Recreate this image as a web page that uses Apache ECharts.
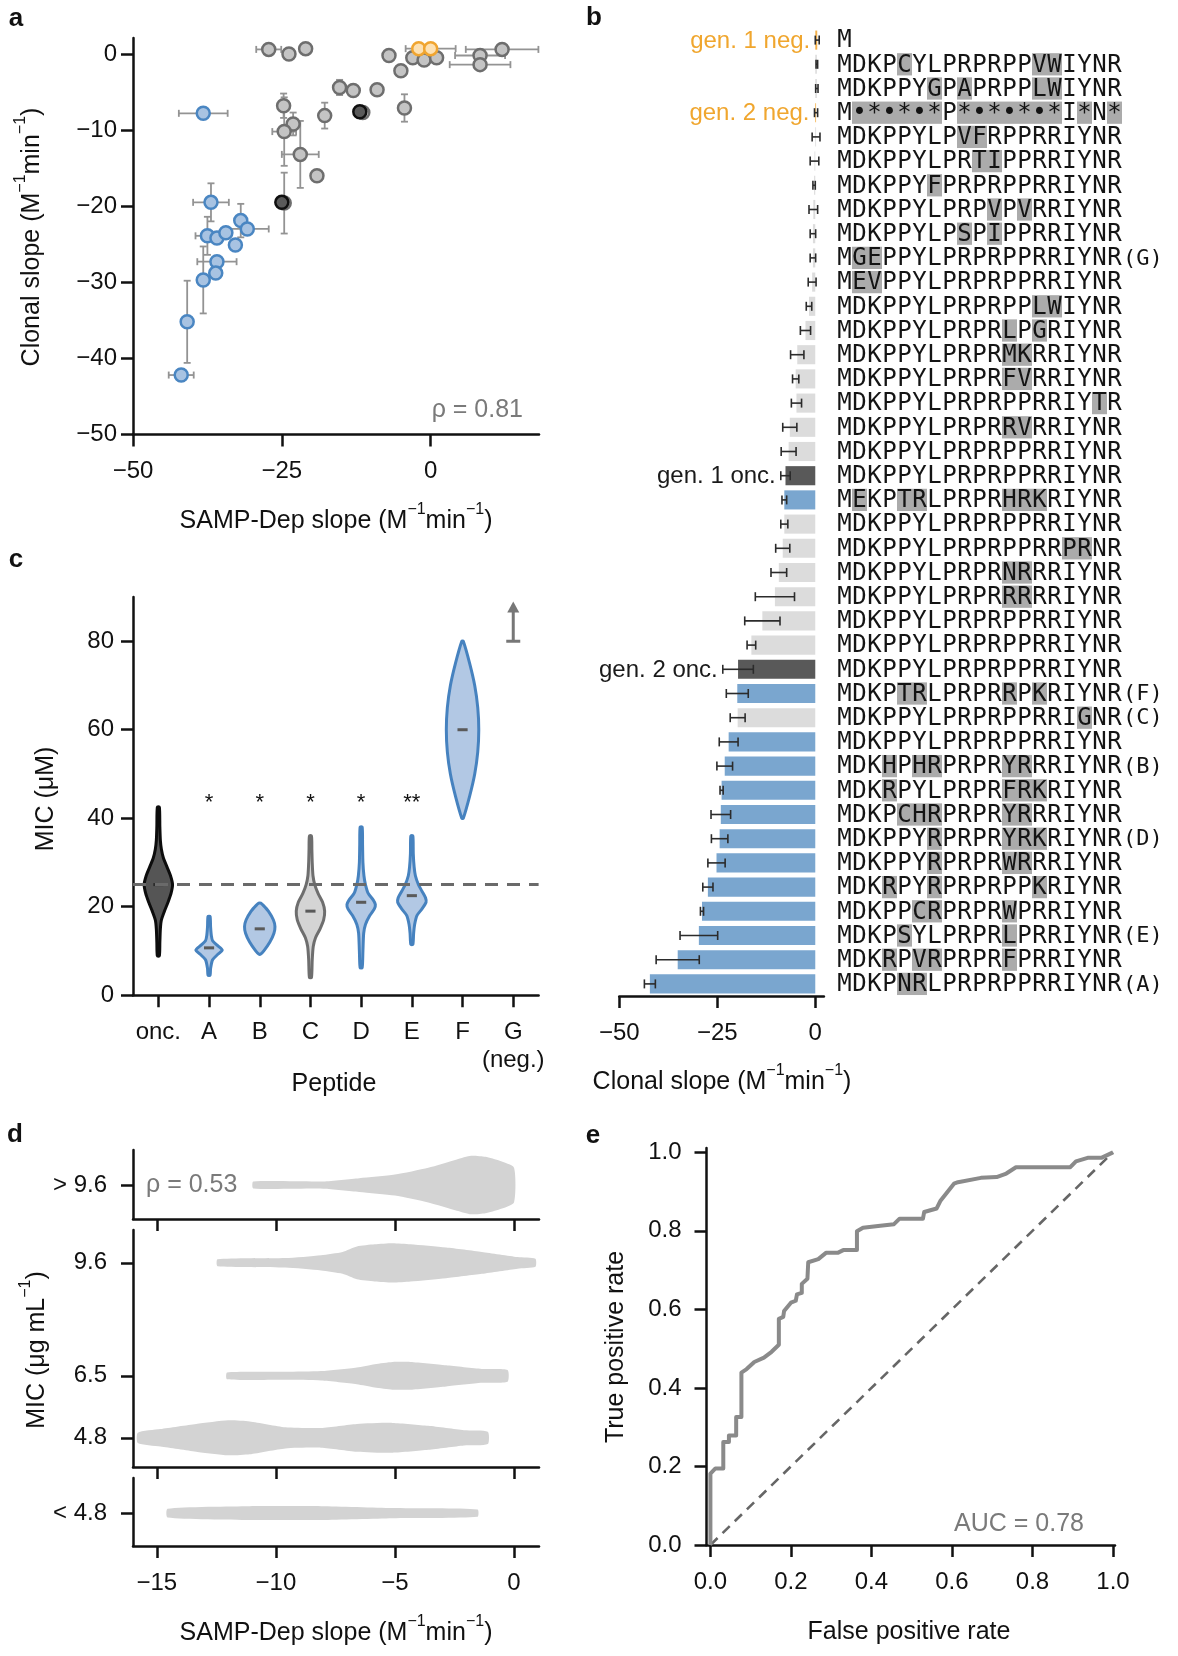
<!DOCTYPE html>
<html>
<head>
<meta charset="utf-8">
<script src="https://cdn.jsdelivr.net/npm/echarts@6/dist/echarts.min.js"></script>
<style>
html,body{margin:0;padding:0;background:#fff;}
#chart{width:1178px;height:1656px;}
</style>
</head>
<body>
<div id="chart"></div>
<script>
// ---------------- Panel a: SAMP-Dep slope vs clonal slope ----------------
const aGrayX    = [-27.2,-23.8,-21.0,-7.0,-3.0,-1.1,1.0,12.0,8.3,8.3,-5.0,-15.3,-13.0,-9.0,-4.4,-24.7,-17.8,-23.1,-24.6,-21.9,-19.1,-11.4,-24.6];
const aGrayY    = [0.6,0.0,0.7,-0.2,-0.5,-0.8,-0.5,0.6,-0.2,-1.4,-2.2,-4.4,-4.8,-4.7,-7.1,-6.8,-8.1,-9.2,-10.2,-13.2,-16.0,-7.7,-19.6];
const aGrayXErr = [2.1,0,0,0,0,0,0,6.1,4.2,5.1,0,0,0,0,0,0,0,0,2.0,3.1,0,0,0];
const aGrayYErr = [0,0,0,0,0,0,0,0,0,0,0,1.0,0,0,1.8,1.6,1.7,1.5,4.5,4.4,0,0,4.0];
const aNegX = [-2.0, 0.0];
const aNegY = [0.7, 0.7];
const aNegXErr = [0, 4.2];
const aNegYErr = [0, 0];
const aOncX = [-11.9, -25.0];
const aOncY = [-7.6, -19.5];
const aBlueX    = [-38.2,-36.9,-37.5,-35.9,-34.4,-31.9,-30.8,-32.8,-35.9,-36.1,-38.2,-40.9,-41.9];
const aBlueY    = [-7.8,-19.5,-23.9,-24.2,-23.5,-21.9,-23.0,-25.1,-27.3,-28.8,-29.7,-35.2,-42.2];
const aBlueXErr = [4.1,3.0,2.0,0,0,0,3.6,0,3.3,0,0,0,2.1];
const aBlueYErr = [0,2.5,2.5,0,0,2.2,0,0,0,0,4.4,5.4,0.8];
const aTicksX = [-50,-25,0];
const aTicksY = [-50,-40,-30,-20,-10,0];

// ---------------- Panel b: clonal slope per sequence ----------------
const REF = 'MDKPPYLPRPRPPRRIYNR';
const bSeq = [
 'M',
 'MDKPCYLPRPRPPVWIYNR',
 'MDKPPYGPAPRPPLWIYNR',
 'M\u2022*\u2022*\u2022*P*\u2022*\u2022*\u2022*I*N*',
 'MDKPPYLPVFRPPRRIYNR',
 'MDKPPYLPRTIPPRRIYNR',
 'MDKPPYFPRPRPPRRIYNR',
 'MDKPPYLPRPVPVRRIYNR',
 'MDKPPYLPSPIPPRRIYNR',
 'MGEPPYLPRPRPPRRIYNR',
 'MEVPPYLPRPRPPRRIYNR',
 'MDKPPYLPRPRPPLWIYNR',
 'MDKPPYLPRPRLPGRIYNR',
 'MDKPPYLPRPRMKRRIYNR',
 'MDKPPYLPRPRFVRRIYNR',
 'MDKPPYLPRPRPPRRIYTR',
 'MDKPPYLPRPRRVRRIYNR',
 'MDKPPYLPRPRPPRRIYNR',
 'MDKPPYLPRPRPPRRIYNR',
 'MEKPTRLPRPRHRKRIYNR',
 'MDKPPYLPRPRPPRRIYNR',
 'MDKPPYLPRPRPPRRPRNR',
 'MDKPPYLPRPRNRRRIYNR',
 'MDKPPYLPRPRRRRRIYNR',
 'MDKPPYLPRPRPPRRIYNR',
 'MDKPPYLPRPRPPRRIYNR',
 'MDKPPYLPRPRPPRRIYNR',
 'MDKPTRLPRPRRPKRIYNR',
 'MDKPPYLPRPRPPRRIGNR',
 'MDKPPYLPRPRPPRRIYNR',
 'MDKHPHRPRPRYRRRIYNR',
 'MDKRPYLPRPRFRKRIYNR',
 'MDKPCHRPRPRYRRRIYNR',
 'MDKPPYRPRPRYRKRIYNR',
 'MDKPPYRPRPRWRRRIYNR',
 'MDKRPYRPRPRPPKRIYNR',
 'MDKPPCRPRPRWPRRIYNR',
 'MDKPSYLPRPRLPRRIYNR',
 'MDKRPVRPRPRFPRRIYNR',
 'MDKPNRLPRPRPPRRIYNR'
];
const bSuffix = ['','','','','','','','','','(G)','','','','','','','','','','','','','','','','','','(F)','(C)','','(B)','','','(D)','','','','(E)','','(A)'];
const bSlope = [0.5,0.4,0.4,0.2,0.2,-0.2,-0.3,-0.5,-0.6,-0.6,-0.8,-1.6,-2.5,-4.6,-5.0,-4.8,-6.5,-6.8,-7.6,-7.9,-7.9,-8.3,-9.3,-10.3,-13.5,-16.3,-19.7,-19.9,-19.8,-22.1,-23.1,-23.9,-24.1,-24.4,-25.2,-27.4,-28.9,-29.7,-35.1,-42.2];
const bErr   = [0.5,0.2,0.3,0.4,1.0,1.1,0.3,1.1,0.7,0.7,1.0,0.7,1.3,1.7,0.8,1.3,1.8,1.9,1.2,0.6,0.9,1.8,2.0,5.0,4.5,1.1,3.9,2.8,1.9,2.4,2.0,0.4,2.5,2.1,2.2,1.3,0.4,4.8,5.5,1.4];
const bGroup = ['neg','other','other','neg','other','other','other','other','other','other','other','other','other','other','other','other','other','other','onc','blue','other','other','other','other','other','other','onc','blue','other','blue','blue','blue','blue','blue','blue','blue','blue','blue','blue','blue'];
const bTag = {0:'gen. 1 neg.', 3:'gen. 2 neg.', 18:'gen. 1 onc.', 26:'gen. 2 onc.'};
const bTicks = [-50,-25,0];

// ---------------- Panel c: MIC violins ----------------
const cCats   = ['onc.','A','B','C','D','E','F','G\n(neg.)'];
const cMedian = [25, 10.7, 15, 19, 21, 22.5, 60, null];
const cStars  = ['', '*', '*', '*', '*', '**', '', ''];
const cAbove  = [null, null, null, null, null, null, null, 80];
const cOncY = [8.9,12,15,17,19,21,23,25,27,29,31,33,35,38,42.5];
const cOncW = [0.02,0.03,0.04,0.06,0.12,0.19,0.25,0.28,0.24,0.17,0.10,0.06,0.04,0.03,0.02];
const cAY = [4.5,6,8,9.3,10.2,11.2,12.3,13.5,15.5,17.8];
const cAW = [0.02,0.03,0.07,0.18,0.26,0.17,0.07,0.045,0.03,0.02];
const cBY = [9.3,10,12,14,15.5,17,19,20.3,20.8];
const cBW = [0.02,0.08,0.2,0.28,0.3,0.27,0.17,0.07,0.02];
const cCY = [4,8,11,13,15,17,19,21,23,25,27,30,33,36];
const cCW = [0.02,0.035,0.055,0.1,0.19,0.26,0.28,0.24,0.15,0.085,0.05,0.035,0.028,0.02];
const cDY = [6.2,10,14,16,18,19.5,20.5,21.5,23,25,27,30,34,38];
const cDW = [0.02,0.035,0.05,0.085,0.17,0.26,0.28,0.24,0.14,0.085,0.055,0.035,0.028,0.02];
const cEY = [11.5,14,16,18,19.5,21,22,23.5,25,27,29,32,36];
const cEW = [0.02,0.035,0.055,0.1,0.2,0.28,0.27,0.2,0.13,0.07,0.045,0.028,0.02];
const cFY = [40,45,50,55,60,65,70,75,80];
const cFW = [0.015,0.14,0.24,0.3,0.32,0.3,0.24,0.14,0.015];
const cRefMIC = 25;
const cTicks = [0,20,40,60,80];

// ---------------- Panel d: SAMP-Dep slope by MIC ----------------
const dHighX = [-10.95,-8,-6.5,-5,-3.6,-2.4,-1.8,-1.2,-0.6,0];
const dHighW = [0.095,0.1,0.19,0.29,0.48,0.71,0.81,0.78,0.67,0.48];
const dMidCenters = [9.6, 6.5, 4.8];
const d96X = [-12.45,-9.6,-8.1,-7.2,-6.6,-5.85,-5.1,-4.35,-2.85,-1.35,0.15,0.9];
const d96W = [0.095,0.13,0.21,0.3,0.45,0.51,0.54,0.51,0.42,0.3,0.16,0.11];
const d65X = [-12.05,-9.6,-8.1,-6.6,-5.85,-5.1,-4.35,-2.85,-1.35,-0.27];
const d65W = [0.095,0.11,0.13,0.23,0.32,0.38,0.38,0.29,0.19,0.16];
const d48X = [-15.8,-14.85,-13.35,-12,-11.1,-9.6,-8.1,-6.6,-5.1,-3.6,-2.1,-1.1];
const d48W = [0.14,0.24,0.38,0.48,0.45,0.29,0.27,0.38,0.41,0.33,0.21,0.17];
const dLowX = [-14.55,-11.1,-8.1,-5.1,-1.53];
const dLowW = [0.12,0.19,0.19,0.14,0.1];
const dTicksX = [-15,-10,-5,0];

// ---------------- Panel e: ROC ----------------
const rocFpr = [0,0,0.0125,0.032,0.032,0.046,0.046,0.064,0.064,0.077,0.077,0.090,0.109,0.133,0.152,0.170,0.170,0.181,0.183,0.200,0.212,0.215,0.227,0.227,0.241,0.243,0.268,0.287,0.316,0.330,0.364,0.364,0.379,0.422,0.456,0.470,0.528,0.531,0.562,0.571,0.605,0.615,0.672,0.711,0.735,0.759,0.894,0.908,0.937,0.971,1.0];
const rocTpr = [0,0.182,0.195,0.195,0.262,0.262,0.279,0.279,0.326,0.326,0.439,0.448,0.466,0.477,0.492,0.510,0.576,0.581,0.596,0.617,0.622,0.638,0.642,0.665,0.678,0.720,0.728,0.744,0.744,0.751,0.751,0.799,0.808,0.813,0.817,0.831,0.831,0.848,0.857,0.876,0.920,0.924,0.935,0.937,0.946,0.962,0.962,0.977,0.986,0.986,1.0];
const eTicks = [0,0.2,0.4,0.6,0.8,1.0];

// ================= styling / building =================
const FONT = '"Liberation Sans", Arial, Helvetica, sans-serif';
const MONO = '"DejaVu Sans Mono", monospace';
const INK = '#111111';
const GRAYTXT = '#7a7a7a';
const minus = v => String(v).replace('-', '\u2212');

function valAxis(gi, min, max, ticks, o) {
  o = o || {};
  return {
    type: 'value', gridIndex: gi, min: min, max: max,
    axisLine: {show: true, onZero: false, lineStyle: {color: INK, width: 2.5}},
    axisTick: {show: true, length: 12, customValues: ticks, lineStyle: {color: INK, width: 2.5}},
    axisLabel: {show: o.label !== false, customValues: ticks, margin: o.margin || 16,
      color: INK, fontSize: 24, fontFamily: FONT, formatter: o.fmt || minus},
    splitLine: {show: false}
  };
}
function hidAxis(gi, type, extra) {
  return Object.assign({type: type, gridIndex: gi, show: false, splitLine: {show: false}}, extra);
}
function grid(l, t, w, h) {
  return {left: l, top: t, width: w, height: h, containLabel: false, outerBoundsMode: 'none'};
}

const rowIds = bSeq.map((s, i) => String(i));
const bColors = {neg: '#f3b04a', other: '#dcdcdc', onc: '#595959', blue: '#7aa6cf'};

const cProfiles = [
  {y: cOncY, w: cOncW, fill: '#555555', stroke: '#0d0d0d', med: '#2a2a2a'},
  {y: cAY, w: cAW, fill: '#b2c8e4', stroke: '#4682bf', med: '#5a5a5a'},
  {y: cBY, w: cBW, fill: '#b2c8e4', stroke: '#4682bf', med: '#5a5a5a'},
  {y: cCY, w: cCW, fill: '#d4d4d4', stroke: '#6e6e6e', med: '#5a5a5a'},
  {y: cDY, w: cDW, fill: '#b2c8e4', stroke: '#4682bf', med: '#5a5a5a'},
  {y: cEY, w: cEW, fill: '#b2c8e4', stroke: '#4682bf', med: '#5a5a5a'},
  {y: cFY, w: cFW, fill: '#b2c8e4', stroke: '#4682bf', med: '#5a5a5a'},
  null
];

function errData(xs, ys, xe, ye) { return xs.map((x, i) => [x, ys[i], xe[i], ye[i]]); }
const aErr = [].concat(errData(aGrayX, aGrayY, aGrayXErr, aGrayYErr),
                       errData(aNegX, aNegY, aNegXErr, aNegYErr),
                       errData(aBlueX, aBlueY, aBlueXErr, aBlueYErr));

function renderErrA(params, api) {
  const x = api.value(0), y = api.value(1), xe = api.value(2), ye = api.value(3);
  const st = {stroke: '#939393', lineWidth: 1.8};
  const cap = 3.5, kids = [];
  if (xe > 0) {
    const a = api.coord([x - xe, y]), b = api.coord([x + xe, y]);
    kids.push({type: 'line', shape: {x1: a[0], y1: a[1], x2: b[0], y2: b[1]}, style: st});
    kids.push({type: 'line', shape: {x1: a[0], y1: a[1] - cap, x2: a[0], y2: a[1] + cap}, style: st});
    kids.push({type: 'line', shape: {x1: b[0], y1: b[1] - cap, x2: b[0], y2: b[1] + cap}, style: st});
  }
  if (ye > 0) {
    const a = api.coord([x, y - ye]), b = api.coord([x, y + ye]);
    kids.push({type: 'line', shape: {x1: a[0], y1: a[1], x2: b[0], y2: b[1]}, style: st});
    kids.push({type: 'line', shape: {x1: a[0] - cap, y1: a[1], x2: a[0] + cap, y2: a[1]}, style: st});
    kids.push({type: 'line', shape: {x1: b[0] - cap, y1: b[1], x2: b[0] + cap, y2: b[1]}, style: st});
  }
  return {type: 'group', children: kids};
}

function renderErrB(params, api) {
  const v = api.value(0), r = api.value(1), e = api.value(2);
  const a = api.coord([v - e, r]), b = api.coord([v + e, r]);
  const st = {stroke: '#2b2b2b', lineWidth: 1.6};
  const cap = 4.5;
  return {type: 'group', children: [
    {type: 'line', shape: {x1: a[0], y1: a[1], x2: b[0], y2: b[1]}, style: st},
    {type: 'line', shape: {x1: a[0], y1: a[1] - cap, x2: a[0], y2: a[1] + cap}, style: st},
    {type: 'line', shape: {x1: b[0], y1: b[1] - cap, x2: b[0], y2: b[1] + cap}, style: st}
  ]};
}

function renderTagB(params, api) {
  const lo = api.value(0), r = api.value(1);
  const p = api.coord([lo, r]);
  const col = bGroup[r] === 'neg' ? '#f0a62e' : '#1a1a1a';
  return {type: 'text', x: p[0] - 5, y: p[1] + 1,
    style: {text: bTag[r], fill: col, font: '24px ' + FONT, align: 'right', verticalAlign: 'middle'}};
}

function renderSeq(params, api) {
  const c = api.value(0), r = api.value(1);
  const ch = bSeq[r][c];
  const p0 = api.coord([c, r]), p1 = api.coord([c + 1, r]);
  const band = api.size([0, 1])[1];
  const kids = [];
  if (ch !== REF[c]) {
    kids.push({type: 'rect', shape: {x: p0[0], y: p0[1] - band * 0.46, width: p1[0] - p0[0], height: band * 0.92},
      style: {fill: '#ababab'}});
  }
  kids.push({type: 'text', x: (p0[0] + p1[0]) / 2, y: p0[1] + 1,
    style: {text: ch, fill: '#141414', font: '24px ' + MONO, align: 'center', verticalAlign: 'middle'}});
  return {type: 'group', children: kids};
}
function renderSuffix(params, api) {
  const c = api.value(0), r = api.value(1);
  const p = api.coord([c, r]);
  return {type: 'text', x: p[0] + 1, y: p[1] + 1,
    style: {text: bSuffix[r], fill: '#141414', font: '22px ' + MONO, align: 'left', verticalAlign: 'middle'}};
}

function renderViolinC(params, api) {
  const i = params.dataIndex;
  const prof = cProfiles[i];
  if (!prof) return null;
  const band = api.size([1, 0])[0];
  const left = [], right = [];
  prof.y.forEach((y, k) => {
    const p = api.coord([i, y]);
    left.push([p[0] - prof.w[k] * band, p[1]]);
    right.push([p[0] + prof.w[k] * band, p[1]]);
  });
  const pts = left.concat(right.reverse());
  const m = api.coord([i, cMedian[i]]);
  return {type: 'group', children: [
    {type: 'polygon', shape: {points: pts, smooth: 0.25}, style: {fill: prof.fill, stroke: prof.stroke, lineWidth: 3, lineJoin: 'round'}},
    {type: 'line', shape: {x1: m[0] - 0.1 * band, y1: m[1], x2: m[0] + 0.1 * band, y2: m[1]}, style: {stroke: prof.med, lineWidth: 3}}
  ]};
}
function renderStar(params, api) {
  const i = params.dataIndex;
  if (!cStars[i]) return null;
  const p = api.coord([i, 43.5]);
  return {type: 'text', x: p[0], y: p[1],
    style: {text: cStars[i], fill: INK, font: '22px ' + FONT, align: 'center', verticalAlign: 'middle'}};
}
function renderArrow(params, api) {
  const i = params.dataIndex;
  if (cAbove[i] == null) return null;
  const b = api.coord([i, cAbove[i]]);
  const t = api.coord([i, cAbove[i] + 9]);
  const st = {stroke: '#777777', lineWidth: 3};
  return {type: 'group', children: [
    {type: 'line', shape: {x1: b[0] - 7, y1: b[1], x2: b[0] + 7, y2: b[1]}, style: st},
    {type: 'line', shape: {x1: b[0], y1: b[1], x2: b[0], y2: t[1] + 9}, style: st},
    {type: 'polygon', shape: {points: [[t[0], t[1]], [t[0] - 6, t[1] + 11], [t[0] + 6, t[1] + 11]]}, style: {fill: '#777777'}}
  ]};
}

function makeViolinH(profiles) {
  return function (params, api) {
    const prof = profiles[params.dataIndex];
    const c = api.value(1);
    const top = [], bot = [];
    prof.x.forEach((x, k) => {
      top.push(api.coord([x, c + prof.w[k]]));
      bot.push(api.coord([x, c - prof.w[k]]));
    });
    return {type: 'polygon', shape: {points: top.concat(bot.reverse()), smooth: 0.2}, style: {fill: '#d3d3d3'}};
  };
}

function supText(x, y, parts, rot) {
  const text = parts.map(p => (p[1] ? '{s|' : '{a|') + p[0] + '}').join('');
  return {type: 'text', x: x, y: y, rotation: rot || 0,
    style: {text: text, align: 'center', verticalAlign: 'middle', fill: INK,
      rich: {a: {fontSize: 25, fontFamily: FONT, lineHeight: 38}, s: {fontSize: 16, fontFamily: FONT, verticalAlign: 'top'}}}};
}
function txt(x, y, s, opt, rot) {
  return {type: 'text', x: x, y: y, rotation: rot || 0,
    style: Object.assign({text: s, font: '25px ' + FONT, fill: INK, align: 'center', verticalAlign: 'middle'}, opt || {})};
}
const slopeUnits = [['(M', 0], ['\u22121', 1], ['min', 0], ['\u22121', 1], [')', 0]];

const option = {
  animation: false,
  backgroundColor: '#ffffff',
  grid: [
    grid(133, 38, 406, 396.4),
    grid(619.3, 28, 204.6, 968),
    grid(837, 28, 330, 968),
    grid(133, 597, 405.6, 398.2),
    grid(133, 1150, 406, 69),
    grid(133, 1230, 406, 237),
    grid(133, 1478, 406, 68),
    grid(706.5, 1148, 408.5, 397)
  ],
  xAxis: [
    valAxis(0, -50, 18.2, aTicksX, {margin: 25}),
    valAxis(1, -50, 2.2, bTicks, {margin: 25}),
    hidAxis(2, 'value', {min: 0, max: 22}),
    {type: 'category', gridIndex: 3, data: cCats,
      axisLine: {show: true, lineStyle: {color: INK, width: 2.5}},
      axisTick: {show: true, alignWithLabel: true, length: 12, lineStyle: {color: INK, width: 2.5}},
      axisLabel: {interval: 0, margin: 23, color: INK, fontSize: 24, fontFamily: FONT, lineHeight: 28},
      splitLine: {show: false}},
    valAxis(4, -16, 1.05, dTicksX, {label: false}),
    valAxis(5, -16, 1.05, dTicksX, {label: false}),
    valAxis(6, -16, 1.05, dTicksX, {margin: 25}),
    valAxis(7, -0.0097, 1.005, eTicks, {margin: 25, fmt: v => v.toFixed(1)})
  ],
  yAxis: [
    valAxis(0, -50, 2.1, aTicksY, {margin: 16}),
    hidAxis(1, 'category', {data: rowIds, inverse: true}),
    hidAxis(2, 'category', {data: rowIds, inverse: true}),
    valAxis(3, 0, 90, cTicks, {margin: 19}),
    valAxis(4, -0.94, 0.97, [0], {margin: 26, fmt: () => '> 9.6'}),
    valAxis(5, 4.0, 10.5, dMidCenters, {margin: 26, fmt: v => v.toFixed(1)}),
    valAxis(6, -0.91, 0.97, [0], {margin: 26, fmt: () => '< 4.8'}),
    valAxis(7, 0, 1.011, eTicks, {margin: 25, fmt: v => v.toFixed(1)})
  ],
  series: [
    {type: 'custom', xAxisIndex: 0, yAxisIndex: 0, renderItem: renderErrA, data: aErr, z: 1, silent: true},
    {type: 'scatter', xAxisIndex: 0, yAxisIndex: 0, z: 2, symbolSize: 13,
      data: aGrayX.map((x, i) => [x, aGrayY[i]]),
      itemStyle: {color: '#c4c4c4', borderColor: '#6e6e6e', borderWidth: 2.5, opacity: 1}},
    {type: 'scatter', xAxisIndex: 0, yAxisIndex: 0, z: 3, symbolSize: 13,
      data: aBlueX.map((x, i) => [x, aBlueY[i]]),
      itemStyle: {color: '#a8c3e2', borderColor: '#4a86c2', borderWidth: 2.5, opacity: 1}},
    {type: 'scatter', xAxisIndex: 0, yAxisIndex: 0, z: 4, symbolSize: 13,
      data: aNegX.map((x, i) => [x, aNegY[i]]),
      itemStyle: {color: '#fde1b3', borderColor: '#f0a530', borderWidth: 2.5, opacity: 1}},
    {type: 'scatter', xAxisIndex: 0, yAxisIndex: 0, z: 5, symbolSize: 13,
      data: aOncX.map((x, i) => [x, aOncY[i]]),
      itemStyle: {color: '#5a5a5a', borderColor: '#0f0f0f', borderWidth: 2.5, opacity: 1}},
    {type: 'bar', xAxisIndex: 1, yAxisIndex: 1, barWidth: '79%', z: 2, silent: true,
      data: bSlope.map((v, i) => ({value: v, itemStyle: {color: bColors[bGroup[i]]}}))},
    {type: 'custom', xAxisIndex: 1, yAxisIndex: 1, z: 3, silent: true, renderItem: renderErrB,
      data: bSlope.map((v, i) => [v, i, bErr[i]])},
    {type: 'custom', xAxisIndex: 1, yAxisIndex: 1, z: 4, silent: true, renderItem: renderTagB,
      data: Object.keys(bTag).map(k => [bSlope[+k] - bErr[+k], +k])},
    {type: 'custom', xAxisIndex: 2, yAxisIndex: 2, z: 3, silent: true, renderItem: renderSeq,
      data: [].concat.apply([], bSeq.map((s, r) => s.split('').map((ch, c) => [c, r])))},
    {type: 'custom', xAxisIndex: 2, yAxisIndex: 2, z: 3, silent: true, renderItem: renderSuffix,
      data: bSuffix.map((s, r) => s ? [bSeq[r].length, r] : null).filter(d => d)},
    {type: 'line', xAxisIndex: 3, yAxisIndex: 3, z: 1, silent: true, data: [], showSymbol: false,
      markLine: {silent: true, symbol: ['none', 'none'], label: {show: false},
        lineStyle: {color: '#6a6a6a', width: 3, type: [13, 9]}, data: [{yAxis: cRefMIC}]}},
    {type: 'custom', xAxisIndex: 3, yAxisIndex: 3, z: 3, silent: true, renderItem: renderViolinC,
      data: cCats.map((c, i) => [i, cMedian[i] == null ? 0 : cMedian[i]])},
    {type: 'custom', xAxisIndex: 3, yAxisIndex: 3, z: 3, silent: true, renderItem: renderStar,
      data: cCats.map((c, i) => [i, 0])},
    {type: 'custom', xAxisIndex: 3, yAxisIndex: 3, z: 3, silent: true, renderItem: renderArrow,
      data: cCats.map((c, i) => [i, 0])},
    {type: 'custom', xAxisIndex: 4, yAxisIndex: 4, z: 2, silent: true,
      renderItem: makeViolinH([{x: dHighX, w: dHighW}]), data: [[0, 0]]},
    {type: 'custom', xAxisIndex: 5, yAxisIndex: 5, z: 2, silent: true,
      renderItem: makeViolinH([{x: d96X, w: d96W}, {x: d65X, w: d65W}, {x: d48X, w: d48W}]),
      data: dMidCenters.map(c => [0, c])},
    {type: 'custom', xAxisIndex: 6, yAxisIndex: 6, z: 2, silent: true,
      renderItem: makeViolinH([{x: dLowX, w: dLowW}]), data: [[0, 0]]},
    {type: 'line', xAxisIndex: 7, yAxisIndex: 7, z: 2, silent: true, showSymbol: false,
      data: [[0, 0], [1, 1]], lineStyle: {color: '#666666', width: 2.6, type: [10, 7]}},
    {type: 'line', xAxisIndex: 7, yAxisIndex: 7, z: 3, silent: true, showSymbol: false,
      data: rocFpr.map((x, i) => [x, rocTpr[i]]), lineStyle: {color: '#8a8a8a', width: 4, join: 'round'}}
  ],
  graphic: [
    txt(16, 19, 'a', {font: 'bold 26px ' + FONT}),
    txt(594, 18, 'b', {font: 'bold 26px ' + FONT}),
    txt(16, 560, 'c', {font: 'bold 26px ' + FONT}),
    txt(15, 1135, 'd', {font: 'bold 26px ' + FONT}),
    txt(593, 1136, 'e', {font: 'bold 26px ' + FONT}),
    supText(32, 237, [['Clonal slope ', 0]].concat(slopeUnits), Math.PI / 2),
    supText(336, 521, [['SAMP-Dep slope ', 0]].concat(slopeUnits)),
    supText(722, 1082, [['Clonal slope ', 0]].concat(slopeUnits)),
    txt(46, 799, 'MIC (\u03bcM)', {}, Math.PI / 2),
    txt(334, 1084, 'Peptide', {}),
    supText(37, 1350, [['MIC (\u03bcg mL', 0], ['\u22121', 1], [')', 0]], Math.PI / 2),
    supText(336, 1633, [['SAMP-Dep slope ', 0]].concat(slopeUnits)),
    txt(616.5, 1347, 'True positive rate', {}, Math.PI / 2),
    txt(909, 1632, 'False positive rate', {}),
    txt(523, 410, '\u03c1 = 0.81', {fill: GRAYTXT, align: 'right'}),
    txt(146, 1185, '\u03c1 = 0.53', {fill: GRAYTXT, align: 'left'}),
    txt(1084, 1524, 'AUC = 0.78', {fill: GRAYTXT, align: 'right'})
  ]
};

const chart = echarts.init(document.getElementById('chart'), null, {renderer: 'canvas', width: 1178, height: 1656});
chart.setOption(option);
</script>
</body>
</html>
